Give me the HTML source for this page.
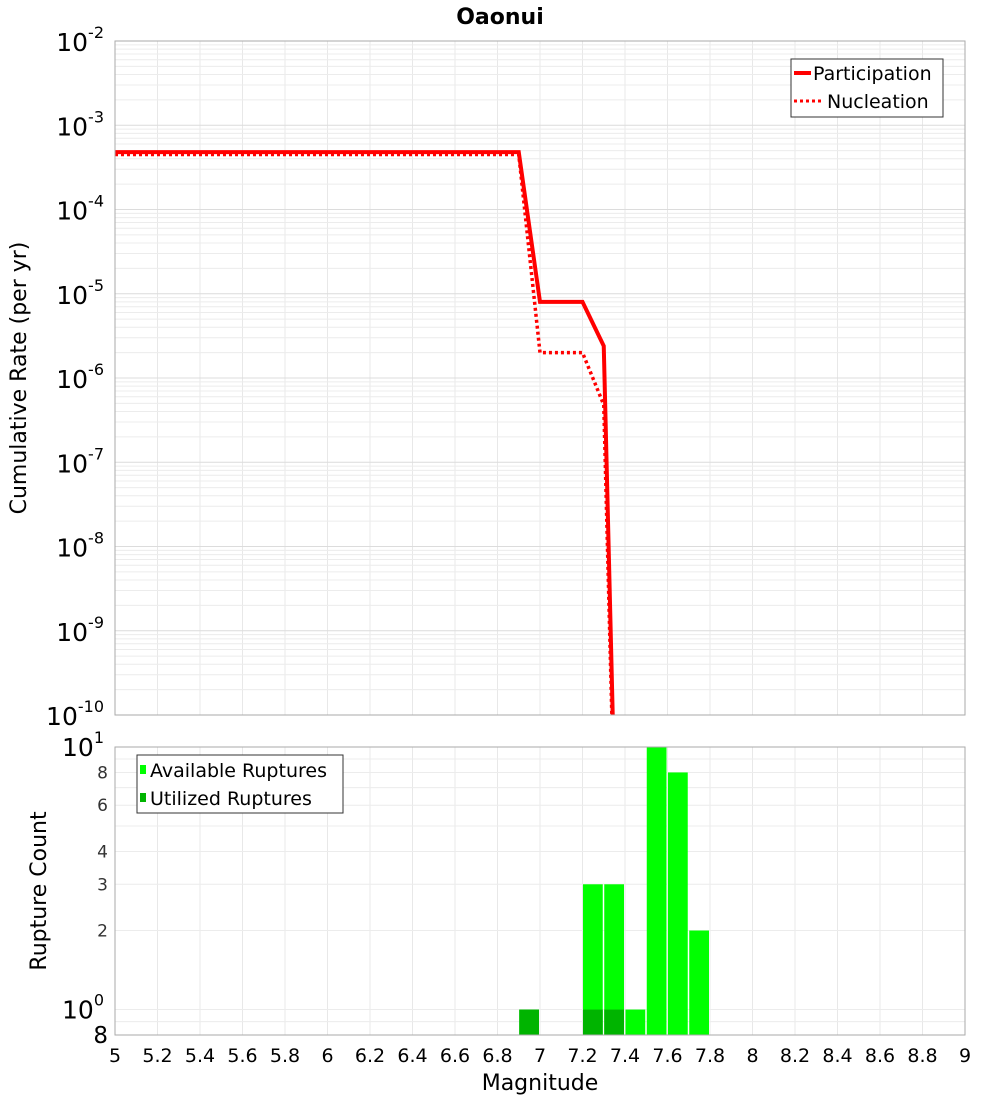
<!DOCTYPE html>
<html><head><meta charset="utf-8"><style>
html,body{margin:0;background:#fff;overflow:hidden;width:1000px;height:1100px}
svg{display:block}
svg text{font-family:"DejaVu Sans","Liberation Sans",sans-serif}
</style></head><body>
<svg id="chart" width="1000" height="1100" xmlns="http://www.w3.org/2000/svg">
<text x="500" y="24" text-anchor="middle" font-size="22" font-weight="bold">Oaonui</text>
<g id="topPlot"></g>
<g id="botPlot"></g>
<text x="540" y="1090" text-anchor="middle" font-size="22">Magnitude</text>
<text transform="translate(26,378) rotate(-90)" text-anchor="middle" font-size="22">Cumulative Rate (per yr)</text>
<text transform="translate(46,891) rotate(-90)" text-anchor="middle" font-size="22">Rupture Count</text>
</svg>
<script>
const partMag=[5,6.9,7.0,7.2,7.3,7.4];
const partRate=[4.8e-4,4.8e-4,8.0e-6,8.0e-6,2.4e-6,1e-16];
const nuclMag=[5,6.9,7.0,7.2,7.3,7.4];
const nuclRate=[4.5e-4,4.5e-4,2.0e-6,2.0e-6,4.8e-7,1e-16];
const binMag=[6.9,7.2,7.3,7.4,7.5,7.6,7.7];
const availCount=[1,3,3,1,10,8,2];
const usedCount=[1,1,1,0,0,0,0];
const xTicks=[5,5.2,5.4,5.6,5.8,6,6.2,6.4,6.6,6.8,7,7.2,7.4,7.6,7.8,8,8.2,8.4,8.6,8.8,9];
const topDecades=[-10,-9,-8,-7,-6,-5,-4,-3,-2];
const botTicks=[2,3,4,6,8];
const botGrid=[0.8,0.9,1,2,3,4,5,6,7,8,9,10];

const NS="http://www.w3.org/2000/svg";
const L=115,R=965,T1=41,B1=715,T2=747,B2=1035;
const xs=m=>L+(m-5)/4*(R-L);
const y1=v=>T1+(-2-Math.log10(v))*(B1-T1)/8;
const y2=v=>T2+(1-Math.log10(v))*(B2-T2)/(1-Math.log10(0.8));
function el(p,tag,a,txt){const e=document.createElementNS(NS,tag);for(const k in a)e.setAttribute(k,a[k]);if(txt!=null)e.textContent=txt;p.appendChild(e);return e;}
const gTop=document.getElementById('topPlot'),gBot=document.getElementById('botPlot');
const defs=el(gTop,'defs',{});
const c1=el(defs,'clipPath',{id:'c1'});el(c1,'rect',{x:115,y:41,width:850,height:674});
const c2=el(defs,'clipPath',{id:'c2'});el(c2,'rect',{x:115,y:747,width:850,height:288});
for(const m of xTicks){const x=xs(m);
 let g=el(gTop,'line',{x1:x,x2:x,y1:T1,y2:B1,stroke:'#e8e8e8'});
 
 
 g=el(gBot,'line',{x1:x,x2:x,y1:T2,y2:B2,stroke:'#e8e8e8'});
 
 }
for(const d of topDecades){
 for(let k=1;k<10;k++){if(d==-2&&k>1)break;const y=y1(k*Math.pow(10,d));
  const g=el(gTop,'line',{x1:L,x2:R,y1:y,y2:y,stroke:k==1?'#dcdcdc':'#ececec'});
  
  }
 const t=el(gTop,'text',{x:104,y:y1(Math.pow(10,d))+10,'text-anchor':'end','font-size':25});
 
 
 el(t,'tspan',{},'10');el(t,'tspan',{dy:-13,'font-size':16},String(d));}
for(const v of botGrid){const y=y2(v);
 const g=el(gBot,'line',{x1:L,x2:R,y1:y,y2:y,stroke:'#ececec'});
 
 }
for(const v of botTicks){const t=el(gBot,'text',{x:108,y:y2(v)+6,'text-anchor':'end','font-size':17,fill:'#333'},String(v));
 
 }
[[10,'1'],[1,'0']].forEach(([v,e])=>{const t=el(gBot,'text',{x:104,y:y2(v)+9,'text-anchor':'end','font-size':25});
 el(t,'tspan',{},'10');el(t,'tspan',{dy:-13,'font-size':16},e);
 
 });
{const t=el(gBot,'text',{x:108,y:1043,'text-anchor':'end','font-size':23},'8');
 
 }
for(const m of xTicks){const t=el(gBot,'text',{x:xs(m),y:1062,'text-anchor':'middle','font-size':19},String(m));
 
 }
const bw=(R-L)/40;
binMag.forEach((m,i)=>{const x=xs(m)+0.5;
 if(availCount[i]>0){const b=el(gBot,'rect',{x:x,y:y2(availCount[i]),width:bw-1.5,height:B2-y2(availCount[i]),fill:'#00ff00','clip-path':'url(#c2)'});
  
  }
 if(usedCount[i]>0){const b=el(gBot,'rect',{x:x,y:y2(usedCount[i]),width:bw-1.5,height:B2-y2(usedCount[i]),fill:'#00b400','clip-path':'url(#c2)'});
  
  }
});
const pp=partMag.map((m,i)=>xs(m)+','+y1(partRate[i])).join(' ');
const np=nuclMag.map((m,i)=>xs(m)+','+y1(nuclRate[i])).join(' ');
let ln=el(gTop,'polyline',{points:np,fill:'none',stroke:'#ff0000','stroke-width':3.5,'stroke-dasharray':'3,3','clip-path':'url(#c1)'});


ln=el(gTop,'polyline',{points:pp,fill:'none',stroke:'#ff0000','stroke-width':4,'clip-path':'url(#c1)'});


el(gTop,'rect',{x:L,y:T1,width:R-L,height:B1-T1,fill:'none',stroke:'#aaa'});
el(gBot,'rect',{x:L,y:T2,width:R-L,height:B2-T2,fill:'none',stroke:'#aaa'});
let lg=el(gTop,'g',{});


el(lg,'rect',{x:791,y:59,width:152,height:58,fill:'#fff',stroke:'#333'});
el(lg,'line',{x1:794,x2:811,y1:73,y2:73,stroke:'#f00','stroke-width':4});
el(lg,'text',{x:813,y:80,'font-size':19},'Participation');
el(lg,'line',{x1:794,x2:821,y1:101,y2:101,stroke:'#f00','stroke-width':3,'stroke-dasharray':'3,3'});
el(lg,'text',{x:827,y:108,'font-size':19},'Nucleation');
lg=el(gBot,'g',{});


el(lg,'rect',{x:137,y:755,width:206,height:58,fill:'#fff',stroke:'#333'});
el(lg,'rect',{x:140,y:765,width:6,height:9,fill:'#00ff00'});
el(lg,'text',{x:150,y:777,'font-size':19},'Available Ruptures');
el(lg,'rect',{x:140,y:793,width:6,height:9,fill:'#00b400'});
el(lg,'text',{x:150,y:805,'font-size':19},'Utilized Ruptures');
</script>
</body></html>
